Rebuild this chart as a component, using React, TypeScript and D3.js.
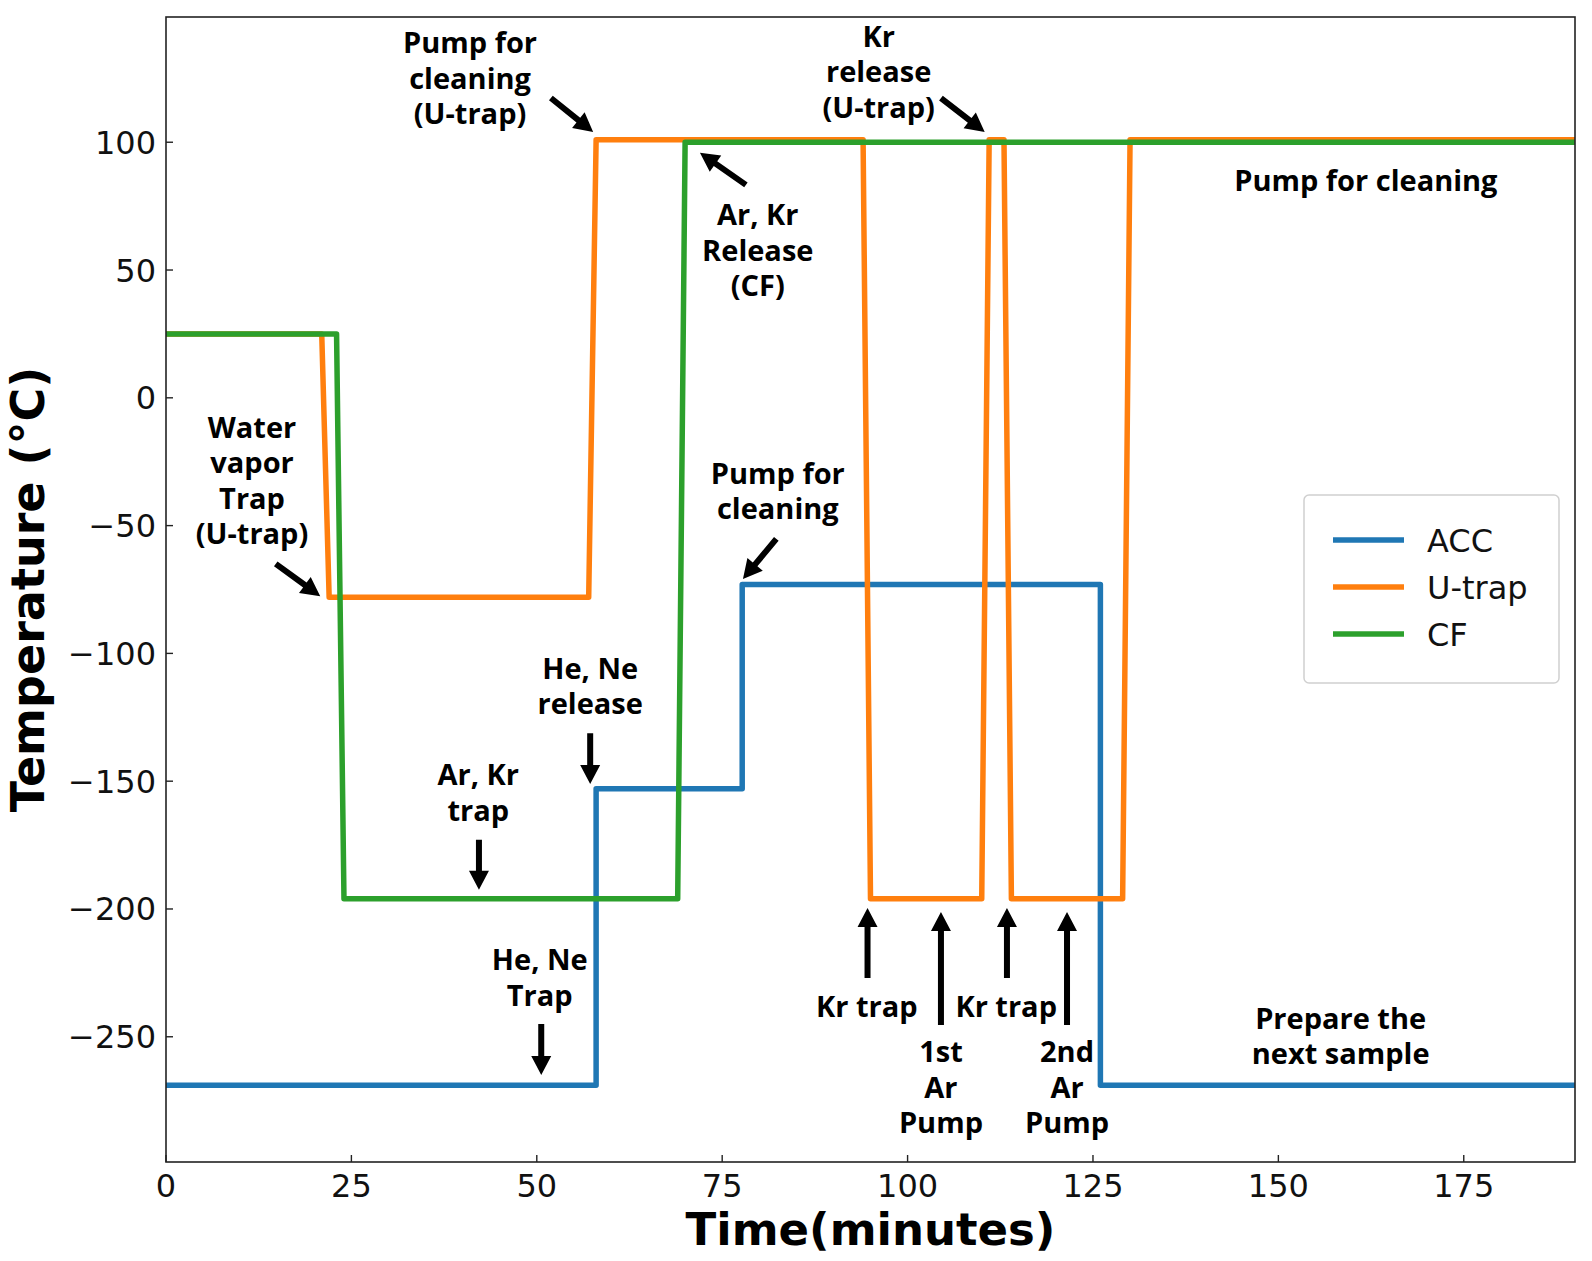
import React from "react";
import * as d3 from "d3";

// ---- data ----
const accTime = [0, 58, 58, 77.7, 77.7, 126, 126, 190];
const accTemp = [-269, -269, -153, -153, -73, -73, -269, -269];

const utrapTime = [0, 21, 22, 57, 58, 94, 95, 110, 111, 113, 114, 129, 130, 190];
const utrapTemp = [25, 25, -78, -78, 101, 101, -196, -196, 101, 101, -196, -196, 101, 101];

const cfTime = [0, 23, 24, 69, 70, 190];
const cfTemp = [25, 25, -196, -196, 100, 100];

const seriesNames = ["ACC", "U-trap", "CF"];
const seriesColors = ["#1f77b4", "#ff7f0e", "#2ca02c"];

const xTicks = [0, 25, 50, 75, 100, 125, 150, 175];
const yTicks = [-250, -200, -150, -100, -50, 0, 50, 100];

// annotations: text lines anchored at (t, v) = first baseline centre, in data units
const annotationLines = [
  ["Water", "vapor", "Trap", "(U-trap)"],
  ["Pump for", "cleaning", "(U-trap)"],
  ["Kr", "release", "(U-trap)"],
  ["Ar, Kr", "Release", "(CF)"],
  ["Pump for cleaning"],
  ["Pump for", "cleaning"],
  ["He, Ne", "release"],
  ["Ar, Kr", "trap"],
  ["He, Ne", "Trap"],
  ["Kr trap"],
  ["1st", "Ar", "Pump"],
  ["Kr trap"],
  ["2nd", "Ar", "Pump"],
  ["Prepare the", "next sample"],
];
const annotationT = [11.6, 41.0, 96.1, 79.8, 161.8, 82.5, 57.2, 42.1, 50.4, 94.5, 104.5, 113.3, 121.5, 158.4];
const annotationV = [-15.7, 134.9, 137.3, 67.6, 80.9, -33.7, -110.0, -151.5, -223.9, -242.3, -259.9, -242.3, -259.9, -246.8];

// arrows: tail (t1, v1) -> tip (t2, v2)
const arrowT1 = [14.8, 51.9, 104.5, 78.2, 82.3, 57.2, 42.2, 50.6, 94.6, 104.5, 113.4, 121.5];
const arrowV1 = [-65.0, 117.3, 117.3, 83.3, -55.2, -131.2, -172.9, -245.0, -227.0, -245.4, -227.0, -245.4];
const arrowT2 = [20.8, 57.6, 110.4, 72.0, 77.8, 57.2, 42.2, 50.6, 94.6, 104.5, 113.4, 121.5];
const arrowV2 = [-77.6, 104.0, 104.0, 95.9, -70.9, -151.1, -192.5, -265.0, -199.6, -201.2, -199.6, -201.2];

// ---- layout ----
const W = 1592;
const H = 1261;
const L = 166, R = 1575, T = 17, B = 1162;

function arrowPolygon(x1: number, y1: number, x2: number, y2: number) {
  const dx = x2 - x1, dy = y2 - y1;
  const len = Math.hypot(dx, dy);
  const ux = dx / len, uy = dy / len;
  const px = -uy, py = ux;
  const sw = 3, hw = 10, hl = 19;
  const bx = x2 - ux * hl, by = y2 - uy * hl;
  const pts = [
    [x1 + px * sw, y1 + py * sw],
    [bx + px * sw, by + py * sw],
    [bx + px * hw, by + py * hw],
    [x2, y2],
    [bx - px * hw, by - py * hw],
    [bx - px * sw, by - py * sw],
    [x1 - px * sw, y1 - py * sw],
  ];
  return pts.map((p) => p.join(",")).join(" ");
}

export default function App() {
  const x = d3.scaleLinear().domain([0, 190]).range([L, R]);
  const y = d3.scaleLinear().domain([-299, 149]).range([B, T]);
  const line = d3
    .line<[number, number]>()
    .x((d) => x(d[0]))
    .y((d) => y(d[1]));

  const series = [
    { t: accTime, v: accTemp },
    { t: utrapTime, v: utrapTemp },
    { t: cfTime, v: cfTemp },
  ];
  const fmt = d3.format("");
  const annFont = "'Open Sans', sans-serif";
  const tickFont = "'DejaVu Sans', sans-serif";

  return (
    <div style={{ position: "absolute", left: 0, top: 0 }}>
      <style>{"body{margin:0}"}</style>
      <svg width={W} height={H} style={{ display: "block", background: "#fff" }}>
        <defs>
          <clipPath id="plotclip">
            <rect x={L} y={T} width={R - L} height={B - T} />
          </clipPath>
        </defs>
        <rect x={0} y={0} width={W} height={H} fill="#fff" />

        {/* series */}
        <g clipPath="url(#plotclip)">
          {series.map((s, i) => (
            <path
              key={seriesNames[i]}
              d={line(s.t.map((tt, j) => [tt, s.v[j]] as [number, number])) || ""}
              fill="none"
              stroke={seriesColors[i]}
              strokeWidth={5.5}
              strokeLinejoin="round"
              strokeLinecap="square"
            />
          ))}
        </g>

        {/* frame */}
        <rect x={L} y={T} width={R - L} height={B - T} fill="none" stroke="#222" strokeWidth={1.6} />

        {/* x ticks */}
        {xTicks.map((t) => (
          <g key={"x" + t}>
            <line x1={x(t)} x2={x(t)} y1={B} y2={B - 7} stroke="#222" strokeWidth={1.4} />
            <text x={x(t)} y={1197} textAnchor="middle" fontFamily={tickFont} fontSize={32} fill="#111">
              {fmt(t)}
            </text>
          </g>
        ))}
        {/* y ticks */}
        {yTicks.map((v) => (
          <g key={"y" + v}>
            <line x1={L} x2={L + 7} y1={y(v)} y2={y(v)} stroke="#222" strokeWidth={1.4} />
            <text x={156} y={y(v) + 11.5} textAnchor="end" fontFamily={tickFont} fontSize={32} fill="#111">
              {fmt(v)}
            </text>
          </g>
        ))}

        {/* axis labels */}
        <text x={(L + R) / 2} y={1245} textAnchor="middle" fontFamily={tickFont} fontWeight="bold" fontSize={45} fill="#000">
          Time(minutes)
        </text>
        <text
          transform={`translate(44, ${(T + B) / 2}) rotate(-90)`}
          textAnchor="middle"
          fontFamily={tickFont}
          fontWeight="bold"
          fontSize={46}
          fill="#000"
        >
          Temperature (°C)
        </text>

        {/* annotations */}
        {annotationLines.map((lines, i) => (
          <text
            key={"a" + i}
            textAnchor="middle"
            fontFamily={annFont}
            fontWeight="bold"
            fontSize={29}
            fill="#000"
            style={{ whiteSpace: "pre" }}
          >
            {lines.map((ln, k) => (
              <tspan key={k} x={x(annotationT[i])} y={y(annotationV[i]) + k * 35.5}>
                {ln}
              </tspan>
            ))}
          </text>
        ))}
        {arrowT1.map((t1, i) => (
          <polygon
            key={"ar" + i}
            points={arrowPolygon(x(t1), y(arrowV1[i]), x(arrowT2[i]), y(arrowV2[i]))}
            fill="#000"
          />
        ))}

        {/* legend */}
        <rect x={1304} y={495} width={255} height={188} rx={5} fill="#fff" fillOpacity={0.8} stroke="#d0d0d0" strokeWidth={1.5} />
        {seriesNames.map((n, i) => (
          <g key={"lg" + n}>
            <line x1={1333} x2={1404} y1={540 + i * 47} y2={540 + i * 47} stroke={seriesColors[i]} strokeWidth={5.5} />
            <text x={1427} y={552 + i * 47} fontFamily={tickFont} fontSize={32} fill="#111">
              {n}
            </text>
          </g>
        ))}
      </svg>
    </div>
  );
}
